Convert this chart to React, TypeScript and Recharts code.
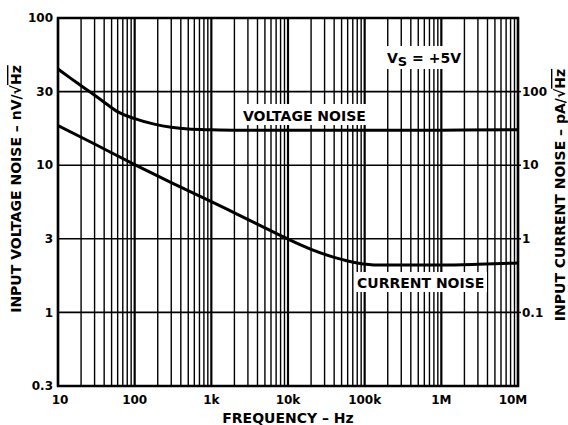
import { LineChart, Line, XAxis, YAxis, CartesianGrid, ReferenceArea } from "recharts";

const freqTicks = [10, 100, 1e3, 1e4, 1e5, 1e6, 1e7];
const freqTickLabels = ["10", "100", "1k", "10k", "100k", "1M", "10M"];
const minorSteps = [2, 3, 4, 5, 6, 7, 8, 9];

const voltageTicks = [0.316, 1, 3.16, 10, 31.6, 100];
const voltageTickLabels = ["0.3", "1", "3", "10", "30", "100"];
const currentTicks = [0.1, 1, 10, 100];
const currentTickLabels = ["0.1", "1", "10", "100"];

// voltage noise, nV/rtHz (left axis)
const voltageFreq = [10, 15, 20, 26, 40, 58, 100, 180, 300, 500, 1000, 2000, 1e4, 1e5, 1e6, 1e7];
const voltageNoise = [45, 38.6, 34.7, 31.5, 26.8, 23.3, 20.7, 19.0, 18.1, 17.6, 17.4, 17.3, 17.3, 17.3, 17.3, 17.4];

// current noise, pA/rtHz (right axis)
const currentFreq = [10, 30, 100, 300, 1000, 2000, 5000, 1e4, 2e4, 4e4, 8e4, 1.5e5, 3e5, 1e6, 3e6, 1e7];
const currentNoise = [34.6, 19.4, 10.2, 5.8, 3.2, 2.25, 1.41, 0.99, 0.72, 0.56, 0.47, 0.44, 0.44, 0.44, 0.45, 0.47];

const voltageData = voltageFreq.map((f, i) => ({ f, v: voltageNoise[i] }));
const currentData = currentFreq.map((f, i) => ({ f, i: currentNoise[i] }));
const gridFreqs = freqTicks
  .flatMap((d, k) => (k < freqTicks.length - 1 ? [d, ...minorSteps.map((m) => m * d)] : [d]));

const FONT = "'DejaVu Sans', Arial, sans-serif";
const tickStyle = { fontFamily: FONT, fontWeight: 700, fontSize: 12, fill: "#000" };
const labelText = { fontFamily: FONT, fontWeight: 700, fontSize: 14, fill: "#000" };

const FreqTick = ({ x, y, payload, index }: any) => {
  const shift = index === 0 ? 2 : index === freqTicks.length - 1 ? -5 : 0;
  return (
    <text x={x + shift} y={y} dy="0.71em" textAnchor="middle" {...tickStyle}>
      {freqTickLabels[freqTicks.indexOf(payload.value)]}
    </text>
  );
};

const VLine = (p: any) => (
  <line
    key={p.key}
    x1={p.x1}
    y1={p.y1}
    x2={p.x2}
    y2={p.y2}
    stroke="#000"
    strokeWidth={freqTicks.includes(gridFreqs[p.index]) ? 2.2 : 1.4}
  />
);

const HLine = (p: any) => (
  <line key={p.key} x1={p.x1} y1={p.y1} x2={p.x2} y2={p.y2} stroke="#000" strokeWidth={1.6} />
);

const freqCoords = ({ xAxis, offset }: any) => {
  const s = xAxis?.scale;
  if (typeof s === "function") return gridFreqs.map((f) => s(f));
  return gridFreqs.map((f) => offset.left + (offset.width * (Math.log10(f) - 1)) / 6);
};

export default function App() {
  return (
    <div style={{ position: "absolute", left: 0, top: 0, background: "#fff" }}>
      <LineChart width={568} height={425} margin={{ top: 18, right: 0, left: 0, bottom: 0 }}>
        <XAxis
          dataKey="f"
          type="number"
          scale="log"
          domain={[10, 1e7]}
          ticks={freqTicks}
          allowDataOverflow
          axisLine={false}
          tickLine={false}
          tickSize={0}
          tickMargin={9}
          height={39}
          tick={<FreqTick />}
        />
        <YAxis
          yAxisId="v"
          type="number"
          scale="log"
          domain={[0.316, 100]}
          ticks={voltageTicks}
          allowDataOverflow
          width={58}
          axisLine={false}
          tickLine={false}
          tickSize={0}
          tickMargin={5}
          tick={tickStyle}
          tickFormatter={(v: number) => voltageTickLabels[voltageTicks.indexOf(v)]}
        />
        <YAxis
          yAxisId="i"
          orientation="right"
          type="number"
          scale="log"
          domain={[0.01, 1000]}
          ticks={currentTicks}
          allowDataOverflow
          width={50}
          axisLine={false}
          tickLine={{ stroke: "#000", strokeWidth: 1.5 }}
          tickSize={3}
          tickMargin={1}
          tick={tickStyle}
          tickFormatter={(v: number) => currentTickLabels[currentTicks.indexOf(v)]}
        />

        <CartesianGrid
          yAxisId="v"
          verticalCoordinatesGenerator={freqCoords}
          horizontalValues={voltageTicks}
          vertical={VLine}
          horizontal={HLine}
        />

        <rect x={384} y={46} width={72} height={23} fill="#fff" />
        <text x={387} y={63} {...labelText}>
          V<tspan fontSize={13} dy={3}>S</tspan>
          <tspan dy={-3}> = +5V</tspan>
        </text>

        <rect x={240} y={104} width={133} height={21} fill="#fff" />
        <text x={243} y={121} {...labelText}>VOLTAGE NOISE</text>

        <rect x={354} y={272} width={133} height={20} fill="#fff" />
        <text x={357} y={288} {...labelText}>CURRENT NOISE</text>

        <Line
          data={voltageData}
          yAxisId="v"
          dataKey="v"
          type="monotone"
          stroke="#000"
          strokeWidth={3}
          dot={false}
          isAnimationActive={false}
        />
        <Line
          data={currentData}
          yAxisId="i"
          dataKey="i"
          type="monotone"
          stroke="#000"
          strokeWidth={3}
          dot={false}
          isAnimationActive={false}
        />

        <ReferenceArea
          x1={10}
          x2={1e7}
          y1={0.316}
          y2={100}
          yAxisId="v"
          fill="none"
          stroke="#000"
          strokeWidth={2.5}
          ifOverflow="visible"
        />

        <text x={288} y={423} textAnchor="middle" {...labelText}>FREQUENCY – Hz</text>
        <text x={21} y={189} textAnchor="middle" transform="rotate(-90 21 189)" {...labelText}>
          INPUT VOLTAGE NOISE – nV/√<tspan style={{ textDecoration: "overline" }}>Hz</tspan>
        </text>
        <text x={565} y={195} textAnchor="middle" transform="rotate(-90 565 195)" {...labelText}>
          INPUT CURRENT NOISE – pA/√<tspan style={{ textDecoration: "overline" }}>Hz</tspan>
        </text>
      </LineChart>
    </div>
  );
}
